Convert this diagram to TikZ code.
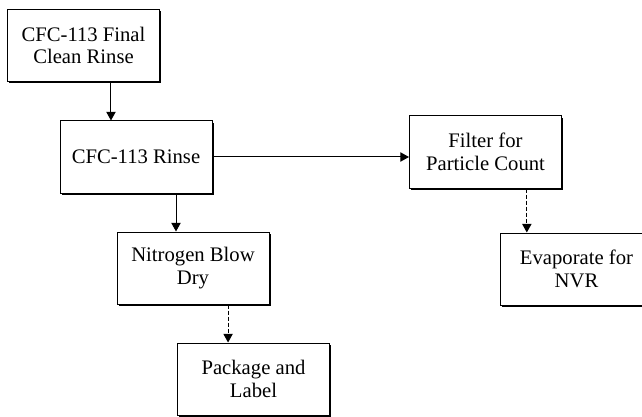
\documentclass[tikz,border=0pt]{standalone}
\usepackage{fontspec}
\setmainfont{Liberation Serif}
\usetikzlibrary{arrows.meta,shadows}

\begin{document}
\begin{tikzpicture}[
  x=0.75pt, y=-0.75pt,
  stepbox/.style={draw, fill=white, line width=0.75pt,
              minimum width=114pt, minimum height=54pt,
              align=center, font=\fontsize{15.5}{17}\selectfont,
              drop shadow={shadow xshift=1.3pt, shadow yshift=-1.3pt,
                           fill=black, opacity=1}},
  arrow/.style={-{Triangle[length=6.5pt, width=7pt]}, line width=0.75pt},
  dasharrow/.style={arrow, dash pattern=on 3pt off 1.5pt}
]
  \useasboundingbox (0,0) rectangle (642,417);
  \clip (0,0) rectangle (642,417);
  \node[stepbox] (final) at (83.5,45.5) {CFC-113 Final\\Clean Rinse};
  \node[stepbox] (rinse) at (136,157) {CFC-113 Rinse};
  \node[stepbox] (filter) at (485.5,152) {Filter for\\Particle Count};
  \node[stepbox] (dry) at (193,268) {Nitrogen Blow\\Dry};
  \node[stepbox] (pack) at (253.5,379) {Package and\\Label};
  \node[stepbox] (evap) at (576.5,269) {Evaporate for\\NVR};
  \draw[arrow] ([xshift=20.6pt]final.south) -- ([xshift=20.6pt]final.south |- rinse.north);
  \draw[arrow] ([xshift=30pt]rinse.south) -- ([xshift=30pt]rinse.south |- dry.north);
  \draw[arrow] (rinse.east) -- (rinse.east -| filter.west);
  \draw[dasharrow] ([xshift=26.3pt]dry.south) -- ([xshift=26.3pt]dry.south |- pack.north);
  \draw[dasharrow] ([xshift=31pt]filter.south) -- ([xshift=31pt]filter.south |- evap.north);
\end{tikzpicture}
\end{document}
